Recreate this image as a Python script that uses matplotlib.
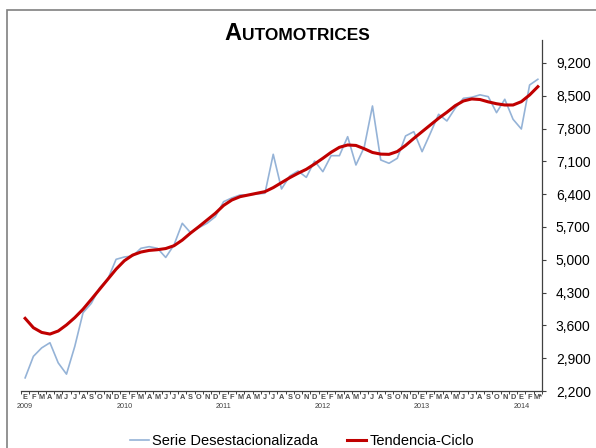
import matplotlib
matplotlib.use("Agg")
import matplotlib.pyplot as plt
from matplotlib.patches import Rectangle
from matplotlib.ticker import FuncFormatter

plt.rcParams['font.family'] = ['Liberation Sans', 'DejaVu Sans']

# monthly data, Jan 2009 .. Mar 2014
month_letters = ['E', 'F', 'M', 'A', 'M', 'J', 'J', 'A', 'S', 'O', 'N', 'D']
years = ['2009', '2010', '2011', '2012', '2013', '2014']

serie = [2480, 2940, 3120, 3230, 2800, 2560, 3150, 3870, 4070, 4400, 4590, 5010,
         5060, 5080, 5245, 5280, 5245, 5050, 5316, 5779, 5578, 5685, 5779, 5920,
         6240, 6320, 6383, 6383, 6404, 6420, 7251, 6511, 6788, 6895, 6759, 7108,
         6880, 7222, 7222, 7627, 7023, 7400, 8282, 7130, 7059, 7166, 7642, 7734,
         7307, 7700, 8105, 7962, 8233, 8446, 8467, 8520, 8481, 8140, 8425, 7998,
         7791, 8730, 8852]

tendencia = [3750, 3550, 3450, 3415, 3480, 3610, 3765, 3945, 4155, 4370, 4585, 4800,
             4980, 5100, 5165, 5200, 5215, 5240, 5300, 5420, 5570, 5706, 5849, 5992,
             6160, 6276, 6347, 6383, 6419, 6454, 6540, 6646, 6752, 6846, 6931, 7044,
             7166, 7294, 7400, 7450, 7440, 7370, 7290, 7255, 7250, 7310, 7440, 7590,
             7734, 7877, 8020, 8148, 8288, 8389, 8432, 8420, 8370, 8330, 8303, 8303,
             8374, 8517, 8694]

yticks = [2200, 2900, 3600, 4300, 5000, 5700, 6400, 7100, 7800, 8500, 9200]

n = len(serie)
x = list(range(n))
labels = [month_letters[i % 12] for i in x]
labels[-1] = 'M*'

fig = plt.figure(figsize=(5.96, 4.48), dpi=100)
ax = fig.add_axes([21 / 596, 1 - 391 / 448, 521 / 596, 351 / 448])

l1, = ax.plot(x, serie, color='#95B3D7', lw=1.2)
l2, = ax.plot(x, tendencia, color='#C00000', lw=2.2)

ax.set_xlim(-0.5, n - 0.5)
ax.set_ylim(2200, 9690)

for s in ['top', 'left']:
    ax.spines[s].set_visible(False)
for s in ['right', 'bottom']:
    ax.spines[s].set_color('#404040')
    ax.spines[s].set_linewidth(0.9)

ax.yaxis.tick_right()
ax.set_yticks(yticks)
ax.yaxis.set_major_formatter(FuncFormatter(lambda v, p: f'{int(v):,}'))
ax.tick_params(axis='y', length=3, width=0.8, color='#404040', pad=7, labelsize=10)

ax.set_xticks(x)
ax.set_xticklabels(labels, fontweight='bold')
ax.set_xticks([i - 0.5 for i in range(n + 1)], minor=True)
ax.tick_params(axis='x', which='major', length=0, pad=2, labelsize=5.3, labelcolor='#4a4a4a')
ax.tick_params(axis='x', which='minor', length=2.5, width=0.7, color='#404040', direction='out')

for k, yr in enumerate(years):
    ax.annotate(yr, xy=(k * 12, 0), xycoords=('data', 'axes fraction'),
                xytext=(0, -11.5), textcoords='offset points',
                ha='center', va='center', fontsize=5.2, color='#404040')

# title in small caps
fig.canvas.draw()
r = fig.canvas.get_renderer()
ty = 1 - 40 / 448
t1 = fig.text(0, ty, 'A', fontsize=17, fontweight='bold', va='baseline', ha='left')
t2 = fig.text(0, ty, 'UTOMOTRICES', fontsize=12.5, fontweight='bold', va='baseline', ha='left')
w1 = t1.get_window_extent(r).width
w2 = t2.get_window_extent(r).width
x0 = 297 - (w1 + w2) / 2
t1.set_x(x0 / 596)
t2.set_x((x0 + w1) / 596)

# outer chart border
fig.add_artist(Rectangle((7 / 596, -0.5), 2, 0.5 + 1 - 10 / 448,
                         transform=fig.transFigure, fill=False,
                         ec='#808080', lw=1.2))

fig.legend([l1, l2], ['Serie Desestacionalizada', 'Tendencia-Ciclo'],
           loc='center', bbox_to_anchor=(302 / 596, 7 / 448), ncol=2,
           frameon=False, fontsize=10.5, handlelength=1.3, handletextpad=0.2,
           columnspacing=2.0, borderpad=0)

fig.savefig('out.png', dpi=100)
